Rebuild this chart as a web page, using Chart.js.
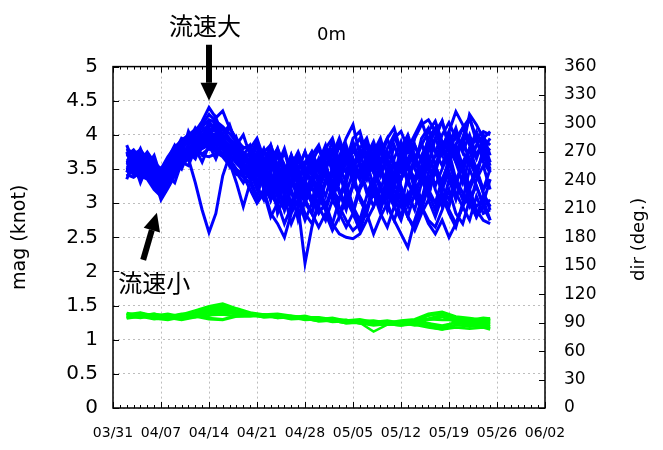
<!DOCTYPE html>
<html>
<head>
<meta charset="utf-8">
<script src="https://cdn.jsdelivr.net/npm/chart.js@4.4.1/dist/chart.umd.min.js"></script>
<style>
  body { margin: 0; background: #fff; }
</style>
</head>
<body>
<canvas id="velChart" width="663" height="450"></canvas>
<script>
// x axis: days counted from 03/31
const dateLabels = ['03/31', '04/07', '04/14', '04/21', '04/28', '05/05', '05/12', '05/19', '05/26', '06/02'];

const blueDays = [
    2, 3, 4, 5, 6, 7, 8, 9, 10,
    11, 12, 13, 14, 15, 16, 17, 18, 19,
    20, 21, 22, 23, 24, 25, 26, 27, 28,
    29, 30, 31, 32, 33, 34, 35, 36, 37,
    38, 39, 40, 41, 42, 43, 44, 45, 46,
    47, 48, 49, 50, 51, 52, 53, 54, 55];

const greenDays = [2, 4, 6, 8, 10, 12, 14, 16, 18, 20, 22, 24, 26, 28,
    30, 32, 34, 36, 38, 40, 42, 44, 46, 48, 50, 52, 54, 55];

// === mag (knot), ensemble members - blue ===
const b01 = [3.70,3.78,3.65,3.72,3.55,3.45,3.60,3.78,3.90, 3.98,4.05,4.20,4.40,4.25,4.35,4.10,3.95,3.80,
    3.85,3.55,3.78,3.45,3.70,3.40,3.62,3.30,3.55, 3.25,3.58,3.80,3.45,3.68,3.95,4.15,3.70,3.90,
    3.50,3.78,3.42,3.85,3.60,3.30,3.65,3.88,3.55, 3.95,4.20,3.85,4.10,3.75,4.00,3.70,3.92,3.60];
const b02 = [3.55,3.60,3.48,3.52,3.40,3.30,3.45,3.60,3.72, 3.65,3.30,2.90,2.57,2.85,3.40,3.70,3.85,3.60,
    3.60,3.25,3.50,3.05,3.35,2.90,3.20,2.75,3.05, 2.85,3.30,2.95,3.25,2.80,3.15,3.45,3.05,2.85,
    3.25,2.95,3.40,3.10,2.80,3.15,2.90,3.30,3.55, 3.20,2.95,3.35,3.05,3.40,3.00,2.80,3.10,2.95];
const b03 = [3.45,3.52,3.40,3.35,3.20,3.10,3.30,3.50,3.65, 3.80,3.90,3.95,4.05,3.98,3.90,3.80,3.70,3.55,
    3.40,3.65,3.20,3.45,2.85,3.10,2.70,2.95,2.12, 2.65,3.05,3.35,3.10,3.55,3.30,3.65,3.35,3.50,
    3.75,3.40,3.65,3.25,3.55,3.85,3.50,3.30,3.70, 3.45,3.80,3.95,3.60,3.30,3.65,3.40,3.75,3.50];
const b04 = [3.60,3.50,3.58,3.45,3.35,3.25,3.40,3.55,3.70, 3.85,3.95,4.00,4.10,4.05,3.95,3.85,3.75,3.65,
    3.70,3.40,3.62,3.30,3.55,3.20,3.45,3.10,3.35, 3.05,2.85,3.00,2.70,2.55,2.50,2.48,2.55,2.75,
    2.95,3.25,2.90,3.30,3.05,2.80,3.15,3.40,3.10, 3.55,3.25,3.05,3.35,3.55,3.20,3.45,3.15,2.95];
const b05 = [3.80,3.72,3.78,3.65,3.50,3.40,3.55,3.70,3.85, 3.90,3.85,4.00,3.95,3.88,3.80,3.70,3.60,3.50,
    3.65,3.85,3.50,3.75,3.55,3.80,3.45,3.70,3.40, 3.60,3.35,3.65,3.80,3.50,3.75,3.40,3.60,3.85,
    3.45,3.20,2.95,2.75,2.55,2.35,2.75,3.05,3.35, 3.55,3.30,3.65,3.85,3.55,3.80,3.50,3.70,3.45];
const b06 = [3.50,3.45,3.55,3.48,3.30,3.20,3.35,3.52,3.68, 3.75,3.85,3.92,3.98,4.02,3.90,3.78,3.85,3.70,
    3.55,3.30,3.60,3.35,3.20,3.50,3.25,3.45,3.15, 3.40,3.20,3.50,3.30,3.65,3.45,3.80,3.55,3.35,
    3.60,3.40,3.75,3.55,3.35,3.65,3.85,3.60,3.95, 4.10,3.80,4.05,4.34,4.15,3.90,3.70,3.85,3.55];
const b07 = [3.40,3.48,3.35,3.42,3.28,3.15,3.25,3.45,3.58, 3.70,3.78,3.82,3.90,3.85,3.72,3.65,3.50,3.40,
    3.20,3.00,3.15,2.80,3.00,2.70,2.95,3.15,2.85, 2.70,2.95,2.75,3.05,2.85,2.65,2.85,2.60,2.90,
    3.15,2.85,2.65,2.95,3.15,2.80,2.60,2.85,3.05, 2.80,3.10,2.85,2.65,3.00,3.20,2.90,2.75,2.70];
const b08 = [3.65,3.58,3.70,3.60,3.45,3.38,3.50,3.65,3.80, 3.90,4.00,4.10,4.05,4.15,4.00,3.90,3.78,3.70,
    3.85,3.60,3.80,3.55,3.75,3.45,3.70,3.50,3.75, 3.50,3.30,3.65,3.90,3.60,3.85,3.55,3.75,3.40,
    3.70,3.90,3.55,3.35,3.75,3.95,3.60,3.85,4.05, 4.20,3.90,3.75,4.00,3.80,4.30,4.15,3.95,4.05];
const b09 = [3.58,3.65,3.52,3.60,3.42,3.35,3.48,3.62,3.75, 3.82,3.75,3.85,3.92,3.80,3.72,3.60,3.45,3.30,
    3.50,3.25,3.55,3.20,3.00,3.40,3.15,2.95,3.30, 3.55,3.30,3.60,3.20,3.05,3.40,3.65,3.35,3.60,
    3.25,3.50,3.15,2.95,3.35,3.60,3.30,3.05,3.45, 3.70,3.85,3.45,3.25,3.60,3.80,3.40,3.20,3.50];
const b10 = [3.62,3.55,3.68,3.58,3.48,3.32,3.42,3.58,3.72, 3.80,3.88,3.70,3.68,3.72,3.85,3.60,3.30,2.95,
    3.30,3.55,3.20,3.45,3.10,3.40,2.95,3.30,3.05, 2.85,3.20,3.45,3.05,3.35,3.65,3.30,3.10,2.90,
    3.30,3.55,3.15,3.45,3.70,3.35,3.10,2.90,3.25, 3.50,3.15,2.95,3.30,3.55,3.15,2.95,3.05,2.75];
const b11 = [3.75,3.68,3.60,3.70,3.58,3.48,3.62,3.75,3.88, 3.95,4.02,4.12,4.22,4.18,4.08,3.95,3.85,3.75,
    3.60,3.85,3.55,3.80,3.50,3.35,3.70,3.45,3.30, 3.65,3.45,3.75,3.50,3.85,3.60,3.95,4.05,3.70,
    3.90,3.60,3.95,4.10,3.75,3.55,3.95,4.15,4.22, 4.05,3.80,3.60,3.85,4.10,3.85,3.65,3.95,3.85];
const b12 = [3.52,3.42,3.50,3.38,3.25,3.12,3.28,3.48,3.62, 3.72,3.80,3.88,3.95,3.90,3.80,3.70,3.62,3.55,
    3.45,3.20,3.50,3.15,2.95,3.35,3.55,3.25,3.05, 3.35,3.10,2.90,3.25,3.45,3.10,2.90,2.70,2.85,
    2.55,2.80,3.00,2.75,3.05,2.80,2.65,2.95,2.70, 2.55,2.75,2.50,2.70,2.95,2.75,3.10,2.85,2.90];
const b13 = [3.68,3.75,3.62,3.55,3.45,3.28,3.38,3.55,3.68, 3.78,3.70,3.82,3.88,3.95,3.82,3.75,3.68,3.58,
    3.45,3.70,3.40,3.60,3.30,3.55,3.25,3.50,3.75, 3.40,3.65,3.40,3.25,3.55,3.80,3.50,3.35,3.70,
    3.85,3.50,3.30,3.65,3.90,3.55,3.35,3.70,3.90, 3.55,3.85,4.00,3.65,3.45,3.80,3.95,3.60,3.45];
const b14 = [3.48,3.55,3.42,3.50,3.38,3.05,3.22,3.40,3.55, 3.65,3.72,3.80,3.85,3.78,3.70,3.58,3.48,3.38,
    3.30,3.05,3.20,2.85,2.70,2.50,2.85,3.05,2.75, 3.00,3.20,2.90,2.70,3.05,3.30,2.95,2.75,3.10,
    3.30,3.05,3.35,2.95,2.75,3.10,3.30,2.95,2.75, 2.65,2.90,3.20,2.85,2.70,3.05,3.25,2.95,3.05];
const b15 = [3.72,3.62,3.75,3.68,3.52,3.42,3.58,3.72,3.82, 3.88,3.95,4.05,4.15,4.08,4.00,3.92,3.82,3.72,
    3.70,3.45,3.75,3.85,3.55,3.40,3.70,3.35,3.60, 3.75,3.50,3.80,3.60,3.90,3.70,3.50,3.80,3.95,
    3.60,3.85,3.65,3.95,4.05,3.80,4.00,4.20,3.90, 3.75,4.00,4.18,3.95,4.10,4.25,3.95,4.05,4.00];
const b16 = [3.42,3.38,3.45,3.40,3.22,3.15,3.32,3.50,3.62, 3.68,3.75,3.72,3.80,3.75,3.68,3.55,3.42,3.50,
    3.35,3.10,3.45,3.05,3.30,2.95,3.25,3.45,3.00, 3.25,2.95,3.30,3.50,3.15,2.90,3.30,3.50,3.20,
    2.95,3.20,3.50,3.20,2.95,3.40,3.65,3.35,3.10, 3.50,3.20,3.60,3.30,3.05,3.50,3.25,3.00,3.35];
const b17 = [3.60,3.70,3.55,3.62,3.50,3.40,3.52,3.68,3.80, 3.92,3.98,3.90,4.00,4.10,3.95,3.80,3.72,3.62,
    3.75,3.50,3.30,3.65,3.80,3.45,3.30,3.65,3.40, 3.70,3.85,3.55,3.75,3.40,3.70,3.85,3.55,3.35,
    3.75,3.95,3.60,3.40,3.80,4.00,3.70,3.45,3.85, 4.05,4.20,3.80,3.60,3.95,3.60,3.40,3.80,3.95];
const b18 = [3.55,3.48,3.62,3.52,3.38,3.22,3.35,3.52,3.65, 3.75,3.82,3.92,4.00,3.92,3.85,3.72,3.58,3.48,
    3.35,3.60,3.25,3.05,3.40,3.15,2.90,3.25,3.00, 2.85,2.65,2.85,2.60,2.80,3.05,2.85,3.20,3.40,
    3.55,3.25,3.05,3.45,3.65,3.30,3.10,3.40,3.60, 3.25,3.50,3.75,3.35,3.15,2.95,3.35,3.55,3.20];
const b19 = [3.78,3.70,3.62,3.75,3.60,3.50,3.68,3.82,3.92, 4.00,4.08,4.15,4.30,4.20,4.12,4.02,3.90,3.82,
    3.80,3.95,3.65,3.50,3.80,3.55,3.40,3.70,3.55, 3.75,3.50,3.80,3.95,3.60,3.45,3.80,3.95,3.65,
    3.45,3.75,3.95,3.60,3.45,3.80,3.55,3.95,4.10, 3.75,3.55,3.90,4.05,3.75,3.55,3.85,4.00,3.70];
const b20 = [3.50,3.58,3.45,3.55,3.40,3.28,3.40,3.58,3.70, 3.78,3.85,3.95,4.02,3.95,3.88,3.78,3.65,3.55,
    3.50,3.25,3.05,3.35,3.10,2.90,3.30,3.50,3.20, 3.00,3.35,3.55,3.20,2.95,2.75,2.60,2.70,2.95,
    3.15,2.90,3.30,3.05,3.35,3.55,3.20,2.95,3.30, 3.50,3.15,2.90,2.70,2.95,3.15,2.80,2.95,2.75];
const b21 = [3.85,3.60,3.80,3.55,3.70,3.38,3.65,3.85,3.70, 4.05,3.85,4.15,3.95,4.25,4.00,4.15,3.85,4.00,
    3.70,3.90,3.60,3.85,3.50,3.75,3.40,3.65,3.35, 3.60,3.80,3.50,3.70,3.95,3.65,3.45,3.80,3.60,
    3.85,3.55,3.80,4.00,3.70,3.50,3.85,3.60,3.95, 4.10,3.80,4.05,3.75,3.95,4.25,3.90,3.70,3.80];
const b22 = [3.35,3.60,3.30,3.55,3.25,3.10,3.40,3.30,3.60, 3.55,3.80,3.60,3.85,3.65,3.90,3.55,3.75,3.40,
    3.60,3.30,3.50,3.20,3.45,3.10,3.35,3.05,3.30, 3.05,3.35,3.10,3.45,3.20,2.95,3.25,3.50,3.15,
    3.35,3.05,3.35,3.55,3.25,3.00,3.30,3.55,3.20, 3.00,3.35,3.60,3.30,3.55,3.25,3.50,3.20,3.35];
const b23 = [3.75,3.50,3.70,3.45,3.60,3.30,3.52,3.75,3.95, 3.90,4.10,3.95,4.20,4.05,3.88,4.12,3.90,3.70,
    3.55,3.75,3.45,3.70,3.40,3.20,3.55,3.75,3.50, 3.30,3.60,3.85,3.55,3.30,3.60,3.90,3.60,3.40,
    3.65,3.90,3.60,3.35,3.65,3.90,3.65,3.40,3.75, 3.95,3.70,4.00,3.75,3.45,3.80,4.05,3.80,3.60];
const b24 = [3.45,3.70,3.50,3.40,3.62,3.20,3.30,3.60,3.50, 3.75,3.65,3.90,3.80,4.00,3.78,3.65,3.95,3.60,
    3.40,3.65,3.40,3.15,3.50,3.25,3.00,3.30,3.10, 3.35,3.10,2.90,3.20,3.45,3.15,2.90,3.25,3.45,
    3.15,2.90,3.20,3.45,3.15,2.95,3.30,3.50,3.15, 2.90,3.20,3.45,3.15,2.95,3.25,3.50,3.15,2.90];

// === mag (knot), second set - green ===
const g01 = [1.37,1.40,1.35,1.38,1.34,1.40,1.47, 1.51,1.43,1.39,1.35,1.37,1.33,1.35, 1.30,1.32,1.28,1.30,1.26,1.28,1.25, 1.28,1.35,1.40,1.31,1.29,1.26,1.29];
const g02 = [1.33,1.36,1.31,1.34,1.30,1.36,1.41, 1.44,1.37,1.35,1.37,1.32,1.34,1.30, 1.31,1.27,1.29,1.25,1.12,1.22,1.25, 1.21,1.24,1.17,1.22,1.19,1.21,1.17];
const g03 = [1.39,1.36,1.38,1.34,1.37,1.43,1.49, 1.53,1.46,1.40,1.37,1.38,1.35,1.33, 1.33,1.30,1.29,1.27,1.28,1.25,1.28, 1.30,1.38,1.41,1.34,1.32,1.29,1.31];
const g04 = [1.31,1.34,1.30,1.32,1.29,1.33,1.36, 1.37,1.34,1.36,1.33,1.34,1.30,1.31, 1.27,1.28,1.24,1.26,1.22,1.23,1.21, 1.23,1.19,1.15,1.18,1.16,1.18,1.15];
const g05 = [1.35,1.38,1.33,1.36,1.32,1.38,1.44, 1.47,1.41,1.35,1.37,1.33,1.35,1.31, 1.30,1.27,1.28,1.24,1.26,1.23,1.27, 1.24,1.29,1.33,1.26,1.27,1.23,1.26];
const g06 = [1.38,1.33,1.37,1.33,1.36,1.35,1.32, 1.30,1.35,1.37,1.34,1.36,1.32,1.33, 1.29,1.31,1.27,1.28,1.24,1.25,1.23, 1.27,1.31,1.36,1.30,1.31,1.28,1.31];
const g07 = [1.32,1.36,1.31,1.29,1.33,1.33,1.39, 1.40,1.38,1.36,1.35,1.32,1.33,1.29, 1.30,1.26,1.27,1.24,1.21,1.23,1.21, 1.25,1.24,1.21,1.25,1.22,1.22,1.20];
const g08 = [1.36,1.39,1.34,1.36,1.33,1.40,1.46, 1.49,1.42,1.39,1.35,1.37,1.33,1.34, 1.29,1.31,1.26,1.28,1.24,1.27,1.23, 1.27,1.36,1.38,1.33,1.29,1.32,1.31];
const g09 = [1.34,1.32,1.35,1.31,1.35,1.34,1.30, 1.29,1.34,1.34,1.36,1.33,1.33,1.30, 1.31,1.27,1.27,1.24,1.25,1.22,1.26, 1.22,1.18,1.15,1.21,1.21,1.19,1.18];
const g10 = [1.35,1.37,1.32,1.34,1.31,1.36,1.42, 1.45,1.39,1.38,1.34,1.35,1.32,1.32, 1.28,1.29,1.26,1.27,1.23,1.25,1.24, 1.29,1.30,1.36,1.28,1.28,1.25,1.28];
const g11 = [1.38,1.35,1.38,1.34,1.38,1.38,1.43, 1.38,1.39,1.35,1.37,1.34,1.34,1.31, 1.32,1.28,1.29,1.26,1.27,1.24,1.27, 1.26,1.30,1.29,1.29,1.25,1.26,1.23];
const g12 = [1.32,1.35,1.31,1.32,1.30,1.34,1.35, 1.42,1.37,1.37,1.33,1.34,1.31,1.31, 1.27,1.28,1.24,1.25,1.22,1.23,1.22, 1.26,1.21,1.19,1.26,1.23,1.23,1.20];

const blueSeries = [b01, b02, b03, b04, b05, b06, b07, b08, b09, b10, b11, b12,
    b13, b14, b15, b16, b17, b18, b19, b20, b21, b22, b23, b24];
const greenSeries = [g01, g02, g03, g04, g05, g06, g07, g08, g09, g10, g11, g12];

// annotations, in data units (day, knot)
const noteTexts = ['流速大', '流速小'];
const noteAt = [[13.4, 5.60], [6.0, 1.83]];
const arrowFrom = [[14.0, 5.32], [4.4, 2.17]];
const arrowTo = [[14.0, 4.50], [6.4, 2.86]];

const tickFont = 'DejaVu Sans';

function toPoints(days, vals) {
    return vals.map((v, i) => ({ x: days[i], y: v }));
}

function drawArrow(ctx, x0, y0, x1, y1) {
    const ang = Math.atan2(y1 - y0, x1 - x0);
    const head = 18, half = 8.5;
    const bx = x1 - head * Math.cos(ang);
    const by = y1 - head * Math.sin(ang);
    ctx.lineWidth = 6;
    ctx.beginPath();
    ctx.moveTo(x0, y0);
    ctx.lineTo(bx, by);
    ctx.stroke();
    ctx.beginPath();
    ctx.moveTo(x1, y1);
    ctx.lineTo(bx + half * Math.sin(ang), by - half * Math.cos(ang));
    ctx.lineTo(bx - half * Math.sin(ang), by + half * Math.cos(ang));
    ctx.closePath();
    ctx.fill();
}

// frame with inward ticks (gnuplot look) + arrows and labels
const decorPlugin = {
    id: 'decor',
    afterDatasetsDraw(chart) {
        const { ctx, chartArea: a, scales: { x, y, y2 } } = chart;
        ctx.save();
        ctx.strokeStyle = '#000';
        ctx.lineWidth = 1;
        ctx.beginPath();
        for (let d = 0; d <= 63; d++) {
            const px = Math.round(x.getPixelForValue(d)) + 0.5;
            const len = d % 7 === 0 ? 6 : 3;
            ctx.moveTo(px, a.bottom); ctx.lineTo(px, a.bottom - len);
            ctx.moveTo(px, a.top); ctx.lineTo(px, a.top + len);
        }
        y.ticks.forEach(t => {
            const py = Math.round(y.getPixelForValue(t.value)) + 0.5;
            ctx.moveTo(a.left, py); ctx.lineTo(a.left + 6, py);
        });
        y2.ticks.forEach(t => {
            const py = Math.round(y2.getPixelForValue(t.value)) + 0.5;
            ctx.moveTo(a.right, py); ctx.lineTo(a.right - 6, py);
        });
        ctx.stroke();
        ctx.lineWidth = 1.5;
        ctx.strokeRect(a.left, a.top, a.right - a.left, a.bottom - a.top);
        ctx.restore();
    },
    afterDraw(chart) {
        const { ctx, chartArea: a, scales: { x, y } } = chart;
        ctx.save();
        ctx.fillStyle = '#000';
        ctx.strokeStyle = '#000';
        arrowFrom.forEach((p, i) => {
            drawArrow(ctx,
                x.getPixelForValue(p[0]), y.getPixelForValue(p[1]),
                x.getPixelForValue(arrowTo[i][0]), y.getPixelForValue(arrowTo[i][1]));
        });
        ctx.font = '24px "Noto Sans CJK JP"';
        ctx.textAlign = 'center';
        ctx.textBaseline = 'middle';
        noteTexts.forEach((t, i) => {
            ctx.fillText(t, x.getPixelForValue(noteAt[i][0]), y.getPixelForValue(noteAt[i][1]));
        });
        // right axis title reads bottom-to-top, like the left one
        ctx.font = `18px "${tickFont}"`;
        ctx.translate(639, (a.top + a.bottom) / 2 + 2);
        ctx.rotate(-Math.PI / 2);
        ctx.fillText('dir (deg.)', 0, 0);
        ctx.restore();
    }
};

const datasets = [
    ...greenSeries.map(vals => ({
        data: toPoints(greenDays, vals),
        borderColor: '#00ff00',
        borderWidth: 2.5,
        pointRadius: 0,
        tension: 0,
        yAxisID: 'y'
    })),
    ...blueSeries.map(vals => ({
        data: toPoints(blueDays, vals),
        borderColor: '#0000ff',
        borderWidth: 3,
        pointRadius: 0,
        tension: 0,
        yAxisID: 'y'
    }))
];

const ctx = document.getElementById('velChart').getContext('2d');
new Chart(ctx, {
    type: 'line',
    data: { datasets },
    options: {
        responsive: false,
        animation: false,
        devicePixelRatio: 1,
        layout: { padding: 0 },
        plugins: {
            legend: { display: false },
            tooltip: { enabled: false },
            title: {
                display: true,
                text: '0m',
                color: '#000',
                font: { family: tickFont, size: 18, weight: 'normal' },
                padding: { top: 25, bottom: 20 }
            }
        },
        scales: {
            x: {
                type: 'linear',
                min: 0,
                max: 63,
                afterFit: s => { s.height = 42; },
                ticks: {
                    stepSize: 7,
                    autoSkip: false,
                    maxRotation: 0,
                    padding: 17,
                    color: '#000',
                    font: { family: tickFont, size: 14 },
                    callback: v => dateLabels[Math.round(v / 7)]
                },
                grid: { color: '#bdbdbd', lineWidth: 1, drawTicks: false },
                border: { display: false, dash: [2, 3] }
            },
            y: {
                position: 'left',
                min: 0,
                max: 5,
                afterFit: s => { s.width = 113; },
                ticks: {
                    stepSize: 0.5,
                    padding: 15,
                    color: '#000',
                    font: { family: tickFont, size: 20 },
                    callback: v => `${v}`
                },
                grid: { color: '#bdbdbd', lineWidth: 1, drawTicks: false },
                border: { display: false, dash: [2, 3] },
                title: {
                    display: true,
                    text: 'mag (knot)',
                    color: '#000',
                    font: { family: tickFont, size: 19 },
                    padding: { top: 9 }
                }
            },
            y2: {
                position: 'right',
                min: 0,
                max: 360,
                afterFit: s => { s.width = 118; },
                ticks: {
                    stepSize: 30,
                    padding: 19,
                    color: '#000',
                    font: { family: tickFont, size: 17 }
                },
                grid: { display: false, drawTicks: false },
                border: { display: false }
            }
        }
    },
    plugins: [decorPlugin]
});
</script>
</body>
</html>
